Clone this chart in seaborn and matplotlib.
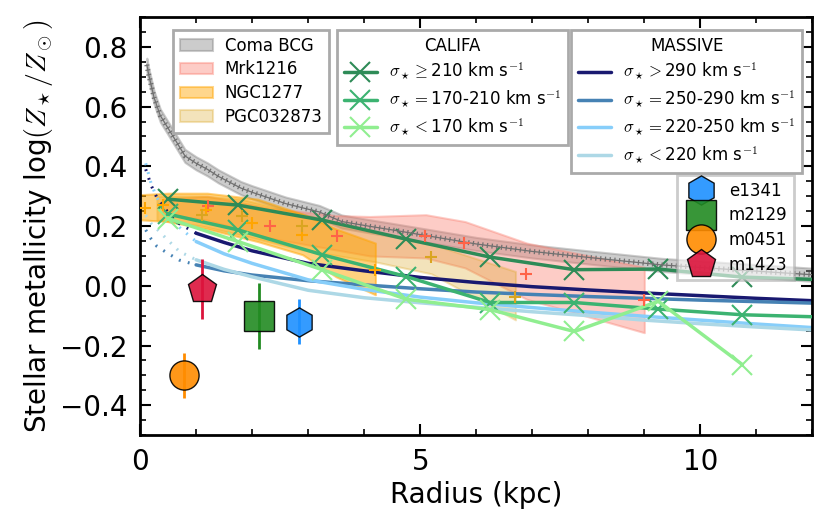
import numpy as np
import pandas as pd
import matplotlib
matplotlib.use('Agg')
import matplotlib.pyplot as plt
import matplotlib.patches as mpatches
from matplotlib.lines import Line2D
from matplotlib.ticker import MultipleLocator
import seaborn as sns

# Coma BCG profile (band centre)
coma_r = [0.12, 0.15, 0.25, 0.36, 0.57, 0.8, 1.0, 1.2, 1.4, 1.8, 2.0, 2.6, 3.2,
          3.6, 4.1, 4.5, 5.3, 6.0, 7.0, 8.0, 9.3, 10.5, 12.0]
coma_z = [0.74, 0.71, 0.63, 0.57, 0.506, 0.435, 0.41, 0.39, 0.366, 0.327, 0.313,
          0.275, 0.247, 0.215, 0.199, 0.187, 0.162, 0.14, 0.115, 0.095, 0.07, 0.055, 0.037]
coma_err = 0.022

# Mrk1216
mrk_band_r = [0.4, 1.2, 2.3, 3.5, 4.1, 5.1, 5.8, 6.9, 9.0]
mrk_band_hi = [0.29, 0.30, 0.26, 0.235, 0.232, 0.238, 0.215, 0.143, 0.062]
mrk_band_lo = [0.24, 0.22, 0.16, 0.12, 0.10, 0.093, 0.06, -0.045, -0.157]
mrk_r = [1.21, 2.31, 3.51, 5.09, 5.79, 6.89, 9.0]
mrk_z = [0.266, 0.199, 0.165, 0.167, 0.143, 0.040, -0.047]

# NGC1277
ngc_band_r = [0.0, 0.5, 1.2, 2.1, 2.9, 3.5, 4.2]
ngc_band_hi = [0.305, 0.31, 0.31, 0.29, 0.24, 0.19, 0.143]
ngc_band_lo = [0.221, 0.215, 0.19, 0.148, 0.104, 0.03, -0.03]
ngc_r = [0.08, 0.41, 1.18, 2.0, 2.89, 4.2]
ngc_z = [0.26, 0.27, 0.255, 0.21, 0.171, 0.054]

# PGC032873
pgc_band_r = [0.3, 1.1, 1.8, 2.9, 4.2, 5.2, 6.7]
pgc_band_hi = [0.30, 0.30, 0.29, 0.24, 0.18, 0.14, 0.048]
pgc_band_lo = [0.22, 0.20, 0.17, 0.12, 0.08, 0.04, -0.114]
pgc_r = [1.1, 1.81, 2.89, 5.2, 6.7]
pgc_z = [0.238, 0.234, 0.199, 0.098, -0.036]

# CALIFA stacks
califa_r = [0.5, 1.75, 3.25, 4.75, 6.25, 7.75, 9.25, 10.75, 12.25]
califa_hi = [0.29, 0.27, 0.22, 0.156, 0.096, 0.054, 0.056, 0.029, 0.02]
califa_mid = [0.24, 0.187, 0.104, 0.031, -0.056, -0.056, -0.078, -0.097, -0.105]
califa_lo = [0.225, 0.148, 0.054, -0.045, -0.080, -0.153, -0.052, -0.264]
califa_labels = [r'$\sigma_\star\geq$210 km s$^{-1}$',
                 r'$\sigma_\star=$170-210 km s$^{-1}$',
                 r'$\sigma_\star<$170 km s$^{-1}$']

# MASSIVE profiles: dotted inner part, solid outer part
massive_r_in = [0.1, 0.2, 0.3, 0.5, 0.7, 1.0]
massive_r_out = [1.0, 1.5, 2, 3, 4, 5, 6, 7, 8, 9, 10, 11, 12]
massive_in = [
    [0.39, 0.335, 0.295, 0.245, 0.208, 0.176],
    [0.187, 0.156, 0.132, 0.108, 0.086, 0.07],
    [0.41, 0.34, 0.295, 0.24, 0.196, 0.148],
    [0.236, 0.208, 0.19, 0.152, 0.115, 0.087],
]
massive_out = [
    [0.176, 0.145, 0.117, 0.075, 0.05, 0.028, 0.011, -0.003, -0.014, -0.024, -0.033, -0.042, -0.05],
    [0.07, 0.05, 0.036, 0.017, 0.003, -0.01, -0.021, -0.029, -0.036, -0.042, -0.048, -0.053, -0.058],
    [0.148, 0.107, 0.075, 0.02, -0.012, -0.038, -0.057, -0.073, -0.088, -0.102, -0.115, -0.128, -0.14],
    [0.087, 0.055, 0.03, -0.015, -0.04, -0.057, -0.072, -0.087, -0.1, -0.115, -0.127, -0.138, -0.148],
]
massive_labels = [r'$\sigma_\star>$290 km s$^{-1}$',
                  r'$\sigma_\star=$250-290 km s$^{-1}$',
                  r'$\sigma_\star=$220-250 km s$^{-1}$',
                  r'$\sigma_\star<$220 km s$^{-1}$']

# individual galaxies
gal_names = ['e1341', 'm2129', 'm0451', 'm1423']
gal_r = [2.83, 2.13, 0.79, 1.10]
gal_z = [-0.12, -0.10, -0.30, -0.01]
gal_err = [0.075, 0.11, 0.075, 0.10]

califa_colors = ['#2e8b57', '#3cb371', '#90ee90']
massive_colors = ['#191970', '#4682b4', '#87cefa', '#add8e6']
gal_colors = ['#1e90ff', '#228b22', '#ff8c00', '#dc143c']
gal_markers = ['h', 's', 'o', 'p']

sns.set_style('ticks', rc={'axes.edgecolor': 'black', 'text.color': 'black',
                           'axes.labelcolor': 'black', 'xtick.color': 'black',
                           'ytick.color': 'black'})
plt.rcParams['font.family'] = ['DejaVu Sans']
plt.rcParams['mathtext.fontset'] = 'cm'
plt.rcParams['mathtext.default'] = 'it'

fig, ax = plt.subplots(figsize=(8.29, 5.30), dpi=100)
fig.subplots_adjust(left=0.169, right=0.98, bottom=0.179, top=0.968)

# bands
coma_r_a = np.array(coma_r)
coma_z_a = np.array(coma_z)
ax.fill_between(coma_r_a, coma_z_a - coma_err, coma_z_a + coma_err,
                color='gray', alpha=0.4, lw=1.5, zorder=1)
ax.fill_between(mrk_band_r, mrk_band_lo, mrk_band_hi, color='salmon', alpha=0.4, lw=1.5, zorder=1)
ax.fill_between(pgc_band_r, pgc_band_lo, pgc_band_hi, color='goldenrod', alpha=0.3, lw=1.5, zorder=1)
ax.fill_between(ngc_band_r, ngc_band_lo, ngc_band_hi, color='orange', alpha=0.5, lw=1.5, zorder=1)

# MASSIVE lines
for zin, zout, c in zip(massive_in, massive_out, massive_colors):
    sns.lineplot(x=massive_r_in, y=zin, ax=ax, color=c, lw=2.2,
                 linestyle=(0, (0.6, 2.4)), sort=False, estimator=None, zorder=2)
    sns.lineplot(x=massive_r_out, y=zout, ax=ax, color=c, lw=2.5,
                 sort=False, estimator=None, zorder=2)

# CALIFA lines
for zz, c in zip([califa_hi, califa_mid, califa_lo], califa_colors):
    sns.lineplot(x=califa_r[:len(zz)], y=zz, ax=ax, color=c, lw=2.5, marker='x',
                 ms=14, mew=1.5, mec=c, sort=False, estimator=None, zorder=3)

# Coma '+' texture
ax.plot(coma_r, coma_z, color='#707070', lw=0.9, zorder=3)
ax.plot(coma_r, coma_z, color='#707070', lw=3.6, linestyle=(0, (0.25, 0.7)), zorder=3)

# band markers
ax.plot(mrk_r, mrk_z, '+', color='tomato', ms=9, mew=1.5, zorder=4)
ax.plot(ngc_r, ngc_z, '+', color='orange', ms=9, mew=1.5, zorder=4)
ax.plot(pgc_r, pgc_z, '+', color='goldenrod', ms=9, mew=1.5, zorder=4)

# galaxies
for i in range(len(gal_names)):
    ax.errorbar(gal_r[i], gal_z[i], yerr=gal_err[i], fmt='none', ecolor=gal_colors[i],
                elinewidth=2, capsize=0, zorder=5)
    ax.plot(gal_r[i], gal_z[i], marker=gal_markers[i], ms=21, color=gal_colors[i],
            mec='k', mew=1, alpha=0.9, ls='none', zorder=6)

ax.set_xlim(0, 12)
ax.set_ylim(-0.5, 0.9)
ax.xaxis.set_major_locator(MultipleLocator(5))
ax.xaxis.set_minor_locator(MultipleLocator(1))
ax.yaxis.set_major_locator(MultipleLocator(0.2))
ax.yaxis.set_minor_locator(MultipleLocator(0.05))
ax.tick_params(which='both', direction='in', top=True, right=True, color='black')
ax.tick_params(which='major', length=8, width=1.5, labelsize=20, pad=9)
ax.tick_params(which='minor', length=4.5, width=1.2)
for s in ax.spines.values():
    s.set_linewidth(2)
    s.set_color('black')
ax.set_xlabel('Radius (kpc)', fontsize=20)
ax.set_ylabel(r'Stellar metallicity log$(Z_\star/Z_\odot)$', fontsize=20)

leg_kw = dict(fontsize=12, handlelength=2.0, handletextpad=0.7, borderaxespad=0,
              fancybox=False, edgecolor='#aaaaaa', numpoints=1)

h1 = [mpatches.Patch(facecolor='gray', edgecolor='gray', alpha=0.4, lw=1.5),
      mpatches.Patch(facecolor='salmon', edgecolor='salmon', alpha=0.4, lw=1.5),
      mpatches.Patch(facecolor='orange', edgecolor='orange', alpha=0.45, lw=1.5),
      mpatches.Patch(facecolor='goldenrod', edgecolor='goldenrod', alpha=0.3, lw=1.5)]
leg1 = ax.legend(h1, ['Coma BCG', 'Mrk1216', 'NGC1277', 'PGC032873'], labelspacing=0.35,
                 loc='upper left', bbox_to_anchor=(0.049, 0.969), framealpha=1, **leg_kw)
leg1.get_frame().set_linewidth(2)
ax.add_artist(leg1)

h2 = [Line2D([], [], color=c, lw=2.5, marker='x', ms=14, mew=1.5) for c in califa_colors]
leg2 = ax.legend(h2, califa_labels, title='CALIFA', title_fontsize=12, labelspacing=0.4,
                 loc='upper left', bbox_to_anchor=(0.293, 0.969), framealpha=1, **leg_kw)
leg2.get_frame().set_linewidth(2)
ax.add_artist(leg2)

h3 = [Line2D([], [], color=c, lw=2.5) for c in massive_colors]
leg3 = ax.legend(h3, massive_labels, title='MASSIVE', title_fontsize=12, labelspacing=0.4,
                 loc='upper left', bbox_to_anchor=(0.641, 0.969), framealpha=1, **leg_kw)
leg3.get_frame().set_linewidth(2)
ax.add_artist(leg3)

h4 = [Line2D([], [], ls='none', marker=m, ms=21, color=c, mec='k', mew=1, alpha=0.9)
      for m, c in zip(gal_markers, gal_colors)]
leg4 = ax.legend(h4, gal_names, loc='upper left', bbox_to_anchor=(0.799, 0.622),
                 labelspacing=0.4, framealpha=0.6, **leg_kw)
leg4.get_frame().set_linewidth(2)

fig.savefig('out.png', dpi=100)
